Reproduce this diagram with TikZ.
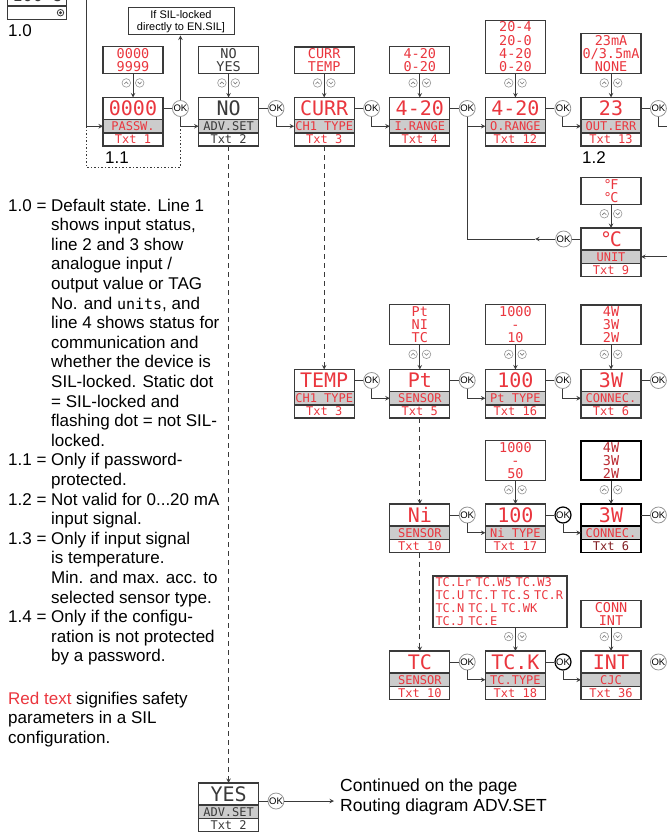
\documentclass[tikz,border=0pt]{standalone}
\usepackage{fontspec}
\setmainfont{Liberation Sans}
\newfontfamily\lcd{DejaVu Sans Mono}
\usetikzlibrary{positioning,calc}
\definecolor{lcdred}{RGB}{234,54,62}
\definecolor{lcddark}{RGB}{58,58,58}
\definecolor{rowgray}{RGB}{204,204,204}
\definecolor{okgray}{RGB}{150,150,150}
\tikzset{
  lcdtop/.style={draw=lcddark,line width=1.2pt,fill=white,minimum width=60pt,minimum height=22pt,
    inner sep=0pt,outer sep=0pt,text height=14pt,text depth=0pt,font=\lcd\fontsize{20}{20}\selectfont},
  lcdlab/.style={lcdtop,fill=rowgray,minimum height=13.5pt,text height=8.8pt,font=\lcd\fontsize{12}{12}\selectfont},
  lcdtxt/.style={lcdlab,fill=white,minimum height=13pt},
  optbox/.style={draw=lcddark,line width=1.2pt,fill=white,minimum width=60pt,inner sep=1.5pt,
    align=center,font=\lcd\fontsize{13.5}{13.3}\selectfont},
  okc/.style={circle,draw=okgray,line width=0.8pt,fill=white,minimum size=16pt,inner sep=0pt,
    font=\fontsize{9.5}{9.5}\selectfont},
  okbold/.style={okc,draw=black,line width=1.2pt},
  flow/.style={draw=lcddark,line width=1pt},
  dashflow/.style={flow,dash pattern=on 5pt off 4pt},
  dotflow/.style={flow,dash pattern=on 1.5pt off 2pt},
  note/.style={inner sep=0pt,anchor=base west,font=\fontsize{17}{19.6}\selectfont},
  updn/.pic={
    \draw[okgray,line width=0.6pt,fill=white] (-6.7,0) circle (4.3pt) (6.7,0) circle (4.3pt);
    \draw[okgray!80!black,line width=0.6pt] (-8.7,1.1) -- (-6.7,-1) -- (-4.7,1.1) (4.7,-1.1) -- (6.7,1) -- (8.7,-1.1);}
}
\begin{document}
\begin{tikzpicture}[x=1pt,y=-1pt]
\useasboundingbox (0,0) rectangle (667,832);
\clip (0,0) rectangle (667,832);
\pgfmathsetmacro{\colstep}{95.6}
\pgfmathsetmacro{\colzero}{133}
% default display 1.0
\node[lcdtop,text=lcddark,minimum width=59.7pt,font=\lcd\fontsize{17}{17}\selectfont,anchor=south] (dflt) at (37,6) {100°\kern-0.12em C};
\node[lcdtxt,minimum width=59.7pt,minimum height=13.3pt,below=0pt of dflt] (dflt-l) {};
\node[circle,draw=lcddark,line width=0.8pt,minimum size=6.5pt,inner sep=0pt] (dot) at (60.5,12.7) {};
\fill[lcddark] (dot) circle (1.6pt);
\node[note] (n10) at (8,37) {1.0};
% display blocks
\foreach \nm/\c/\ty/\tc/\val/\lab/\txt in {pw/0/97.5/lcdred/0000/PASSW./Txt 1,
  adv/1/97.5/lcddark/NO/ADV.SET/Txt 2, ch/2/97.5/lcdred/CURR/CH1 TYPE/Txt 3,
  ir/3/97.5/lcdred/4-20/I.RANGE/Txt 4, orng/4/97.5/lcdred/4-20/O.RANGE/Txt 12,
  err/5/97.5/lcdred/23/OUT.ERR/Txt 13, unit/5/228/lcdred/°\kern-0.12em C/UNIT/Txt 9,
  tmp/2/369.5/lcdred/TEMP/CH1 TYPE/Txt 3, pt/3/369.5/lcdred/Pt/SENSOR/Txt 5,
  ptt/4/369.5/lcdred/100/Pt TYPE/Txt 16, con/5/369.5/lcdred/3W/CONNEC./Txt 6,
  ni/3/504/lcdred/Ni/SENSOR/Txt 10, nit/4/504/lcdred/100/Ni TYPE/Txt 17,
  tc/3/651/lcdred/TC/SENSOR/Txt 10, tck/4/651/lcdred/TC.K/TC.TYPE/Txt 18,
  cjc/5/651/lcdred/INT/CJC/Txt 36, yes/1/783/lcddark/YES/ADV.SET/Txt 2}{
  \node[lcdtop,text=\tc,anchor=north] (\nm) at (\colzero+\c*\colstep,\ty) {\val};
  \node[lcdlab,text=\tc,below=0pt of \nm] (\nm-l) {\lab};
  \node[lcdtxt,text=\tc,below=0pt of \nm-l] (\nm-t) {\txt};
}
\node[lcdtop,text=lcdred,draw=black,line width=1.8pt,anchor=north] (conb) at (\colzero+5*\colstep,504) {3W};
\node[lcdlab,text=lcdred,draw=black,line width=1.8pt,below=0pt of conb] (conb-l) {CONNEC.};
\node[lcdtxt,text=lcdred!55!black,draw=black,line width=1.8pt,below=0pt of conb-l] (conb-t) {Txt 6};
% option lists
\foreach \nm/\c/\by/\tc/\opts in {pw/0/74/lcdred/{0000\\9999}, adv/1/74/lcddark/{NO\\YES},
  ch/2/74/lcdred/{CURR\\TEMP}, ir/3/74/lcdred/{4-20\\0-20},
  orng/4/74/lcdred/{20-4\\20-0\\4-20\\0-20}, err/5/74/lcdred/{23mA\\0\slash 3.5mA\\NONE},
  unit/5/205/lcdred/{°\kern-0.1em F\\°\kern-0.1em C}, pt/3/345/lcdred/{Pt\\NI\\TC}, ptt/4/345/lcdred/{1000\\-\\10},
  con/5/345/lcdred/{4W\\3W\\2W}, nit/4/481/lcdred/{1000\\-\\50}, cjc/5/627.7/lcdred/{CONN\\INT}}{
  \node[optbox,text=\tc,anchor=south] (\nm-o) at (\colzero+\c*\colstep,\by) {\opts};
  \draw[flow,-stealth] (\nm-o) -- (\nm);
  \pic at ($(\nm-o.south)!0.38!(\nm.north)$) {updn};
}
\node[optbox,draw=black,line width=1.8pt,text=lcdred!80!black,anchor=south] (conb-o) at (\colzero+5*\colstep,481) {4W\\3W\\2W};
\draw[flow,-stealth] (conb-o) -- (conb);
\pic at ($(conb-o.south)!0.38!(conb.north)$) {updn};
\node[optbox,text=lcdred,align=left,text width=129pt,inner xsep=2.5pt,font=\lcd\fontsize{12}{13}\selectfont,anchor=south] (tck-o) at (500,627.7) {TC.Lr TC.W5 TC.W3\\TC.U TC.T TC.S TC.R\\TC.N TC.L TC.WK\\TC.J TC.E};
\draw[flow,-stealth] (tck-o.south -| tck) -- (tck);
\pic at ($(tck-o.south -| tck)!0.38!(tck.north)$) {updn};
% OK keys
\foreach \nm in {pw,adv,ch,ir,orng,err,tmp,pt,ptt,con,ni,conb,tc,cjc}{\node[okc,right=9pt of \nm] (\nm-k) {OK};}
\foreach \nm in {nit,tck}{\node[okbold,right=9pt of \nm] (\nm-k) {OK};}
\node[okc,left=9pt of unit] (unit-k) {OK};
\node[okc,right=9pt of yes,yshift=-7pt] (yes-k) {OK};
\foreach \nm in {pw,adv,ch,ir,orng,err,tmp,pt,ptt,con,ni,nit,conb,tc,tck,unit}{\draw[flow] (\nm) -- (\nm-k);}
\draw[flow] (yes-k -| yes.east) -- (yes-k);
\foreach \a/\b in {pw/adv,adv/ch,ch/ir,ir/orng,orng/err,tmp/pt,pt/ptt,ptt/con,ni/nit,nit/conb,tc/tck,tck/cjc}{\draw[flow,-stealth] (\a-k) |- (\b-l.west);}
% SIL lock
\node[draw=lcddark,line width=1pt,minimum width=106pt,minimum height=27pt,align=center,inner sep=1pt,font=\fontsize{11}{11.5}\selectfont] (sil) at (181,21.5) {If SIL-locked\\directly to EN.SIL]};
\draw[flow,-stealth] (pw-k) -- (pw-k |- sil.south);
% entry and 1.1 bracket
\coordinate (inL) at (86,0);
\draw[flow,-stealth] (inL) |- (pw-l.west);
\coordinate (dB) at (86,167);
\draw[dotflow] (inL |- pw-l) -- (dB) -| (pw-k |- pw-l);
\node[note] (n11) at (105,163) {1.1};
\node[note] (n12) at (582,163) {1.2};
% right edge loop to UNIT
\coordinate (eR) at (667,0);
\draw[flow] (err-k) |- (eR |- err-l);
\draw[flow,-stealth] (eR |- unit-l) -- (unit-l);
\coordinate (uA) at (535,0);
\draw[flow,-stealth] (unit-k) -- (uA |- unit-k);
\draw[flow] (uA |- unit-k) -- (ir-k |- unit-k) -- (ir-k |- orng-l);
% dashed branches
\draw[dashflow,-stealth] (adv-t) -- (yes);
\draw[dashflow,-stealth] (ch-t) -- (tmp);
\draw[dashflow,-stealth] (pt-t) -- (ni);
\draw[dashflow,-stealth] (ni-t) -- (tc);
% continuation
\node[note,font=\fontsize{17.5}{20}\selectfont] (cont) at (340,791) {\begin{tabular}[t]{@{}l@{}}Continued on the page\\Routing diagram ADV.SET\end{tabular}};
\draw[flow,-stealth] (yes-k) -- ([xshift=-6pt]yes-k -| cont.west);
% notes
\node[note] (notes) at (8,211) {\begin{tabular}[t]{@{}l@{\ }l@{}}
1.0 = & Default state. Line 1\\
 & shows input status,\\
 & line 2 and 3 show\\
 & analogue input /\\
 & output value or TAG\\
 & No. and {\lcd\fontsize{15}{19.6}\selectfont units}, and\\
 & line 4 shows status for\\
 & communication and\\
 & whether the device is\\
 & SIL-locked. Static dot\\
 & = SIL-locked and\\
 & flashing dot = not SIL-\\
 & locked.\\
1.1 = & Only if password-\\
 & protected.\\
1.2 = & Not valid for 0...20 mA\\
 & input signal.\\
1.3 = & Only if input signal\\
 & is temperature.\\
 & Min. and max. acc. to\\
 & selected sensor type.\\
1.4 = & Only if the configu-\\
 & ration is not protected\\
 & by a password.
\end{tabular}};
\node[note] (redn) at (8,704) {\begin{tabular}[t]{@{}l@{}}\textcolor{lcdred}{Red text} signifies safety\\parameters in a SIL\\configuration.\end{tabular}};
\end{tikzpicture}
\end{document}
